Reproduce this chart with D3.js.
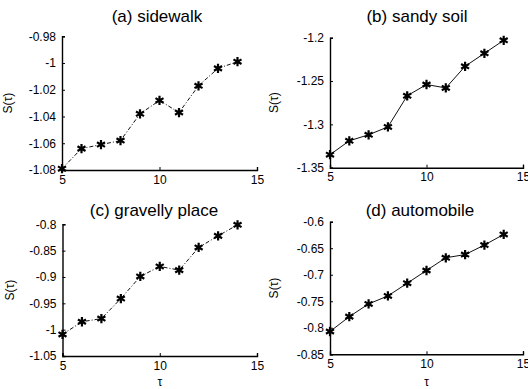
<!DOCTYPE html>
<html><head><meta charset="utf-8">
<script src="https://cdn.jsdelivr.net/npm/d3@7"></script>
<style>body{margin:0;background:#fff}svg{display:block}text{font-family:"Liberation Sans",Arial,sans-serif;fill:#000}</style>
</head><body><svg id="c" width="528" height="389"></svg>
<script>
const tau = [5,6,7,8,9,10,11,12,13,14];
const xTicks = [5,10,15];
const sidewalk = [-1.079,-1.064,-1.061,-1.058,-1.038,-1.028,-1.037,-1.017,-1.004,-0.999];
const sandySoil = [-1.335,-1.319,-1.312,-1.303,-1.267,-1.254,-1.258,-1.233,-1.218,-1.203];
const gravelly = [-1.009,-0.985,-0.979,-0.941,-0.899,-0.880,-0.887,-0.844,-0.822,-0.801];
const automobile = [-0.807,-0.779,-0.755,-0.740,-0.716,-0.692,-0.668,-0.662,-0.644,-0.624];
const titles = ["(a) sidewalk","(b) sandy soil","(c) gravelly place","(d) automobile"];
const yTicksA = [-0.98,-1,-1.02,-1.04,-1.06,-1.08];
const yTicksB = [-1.2,-1.25,-1.3,-1.35];
const yTicksC = [-0.8,-0.85,-0.9,-0.95,-1,-1.05];
const yTicksD = [-0.6,-0.65,-0.7,-0.75,-0.8,-0.85];

const panels = [
  {data:sidewalk, ticks:yTicksA, dom:[-1.08,-0.98], x0:62, x1:257, y0:170, y1:36.3, dash:"4,2,1,2", tx:157, ty:22, lx:12, xlabel:false},
  {data:sandySoil, ticks:yTicksB, dom:[-1.35,-1.2], x0:330, x1:523, y0:167.7, y1:37.7, dash:null, tx:417, ty:22, lx:278, xlabel:false},
  {data:gravelly, ticks:yTicksC, dom:[-1.05,-0.8], x0:62.5, x1:257, y0:356, y1:224.3, dash:"4,2,1,2", tx:154, ty:216, lx:14, xlabel:true},
  {data:automobile, ticks:yTicksD, dom:[-0.85,-0.6], x0:330, x1:523, y0:354.3, y1:221.7, dash:null, tx:420, ty:216, lx:278, xlabel:true}
];
const svg = d3.select("#c");
const fmt = v => String(+v.toFixed(3));
panels.forEach((p,i)=>{
  const x = d3.scaleLinear().domain([5,15]).range([p.x0,p.x1]);
  const y = d3.scaleLinear().domain(p.dom).range([p.y0,p.y1]);
  const g = svg.append("g");
  const yAxis = d3.axisLeft(y).tickValues(p.ticks).tickFormat(fmt).tickSize(-3).tickPadding(6);
  const gy = g.append("g").attr("transform",`translate(${p.x0},0)`).call(yAxis);
  const xAxis = d3.axisBottom(x).tickValues(xTicks).tickFormat(d3.format("d")).tickSize(-3).tickPadding(5);
  const gx = g.append("g").attr("transform",`translate(0,${p.y0})`).call(xAxis);
  [gx,gy].forEach(a=>{
    a.select(".domain").attr("stroke","#000").attr("stroke-width",1.4);
    a.selectAll(".tick line").attr("stroke","#000");
    a.selectAll(".tick text").attr("font-size",12).attr("font-family","Liberation Sans, Arial, sans-serif").attr("fill","#000");
  });
  const line = d3.line().x((d,j)=>x(tau[j])).y(d=>y(d));
  g.append("path").datum(p.data).attr("d",line).attr("fill","none").attr("stroke","#111")
    .attr("stroke-width",1).attr("stroke-dasharray",p.dash);
  const sym = d3.symbol().type(d3.symbolAsterisk).size(60);
  g.selectAll(".m").data(p.data).enter().append("path")
    .attr("transform",(d,j)=>`translate(${x(tau[j])},${y(d)})`)
    .attr("d",sym).attr("fill","none").attr("stroke","#000").attr("stroke-width",2.2);
  g.append("text").attr("x",p.tx).attr("y",p.ty).attr("text-anchor","middle").attr("font-size",17).text(titles[i]);
  g.append("text").attr("transform",`translate(${p.lx},${(p.y0+p.y1)/2}) rotate(-90)`)
    .attr("text-anchor","middle").attr("font-size",12).text("S(τ)");
  if(p.xlabel){
    g.append("text").attr("x",x(10)).attr("y",386).attr("text-anchor","middle").attr("font-size",12).text("τ");
  }
});
</script></body></html>
